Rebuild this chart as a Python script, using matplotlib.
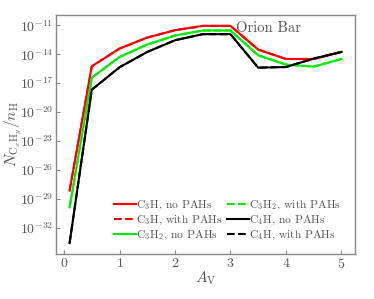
import matplotlib
matplotlib.use("Agg")
import matplotlib.pyplot as plt
import numpy as np

plt.rcParams['font.family'] = 'serif'
plt.rcParams['font.serif'] = ['cmr10']
plt.rcParams['mathtext.fontset'] = 'cm'
plt.rcParams['axes.formatter.use_mathtext'] = True

av = [0.1, 0.5, 1.0, 1.5, 2.0, 2.5, 3.0, 3.5, 4.0, 4.5, 5.0]
log_c3h = [-28.13, -15.26, -13.42, -12.28, -11.52, -11.07, -11.07, -13.53, -14.5, -14.5, -13.77]
log_c3h2 = [-29.87, -16.43, -14.29, -13.0, -12.07, -11.55, -11.55, -14.12, -15.08, -15.29, -14.5]
log_c4h = [-33.57, -17.68, -15.36, -13.77, -12.56, -11.93, -11.93, -15.4, -15.33, -14.46, -13.77]
# with PAHs: coincide with the no-PAH curves in the figure
log_c3h_pah = log_c3h
log_c3h2_pah = log_c3h2
log_c4h_pah = log_c4h

series = [
    ("C$_3$H, no PAHs", log_c3h, "#ff0000", "-"),
    ("C$_3$H, with PAHs", log_c3h_pah, "#ff0000", "--"),
    ("C$_3$H$_2$, no PAHs", log_c3h2, "#00ee00", "-"),
    ("C$_3$H$_2$, with PAHs", log_c3h2_pah, "#00ee00", "--"),
    ("C$_4$H, no PAHs", log_c4h, "#000000", "-"),
    ("C$_4$H, with PAHs", log_c4h_pah, "#000000", "--"),
]

fig = plt.figure(figsize=(3.74, 2.99), dpi=100)
ax = fig.add_axes([56/374, 1-254/299, 299/374, 239/299])

handles = []
for label, vals, col, ls in series:
    h, = ax.plot(av, 10.0**np.array(vals), color=col, ls=ls, lw=1.5, label=label,
                 zorder=2 if ls == "--" else 3)
    handles.append(h)

ax.set_yscale('log')
ax.set_yticks([1e-11, 1e-14, 1e-17, 1e-20, 1e-23, 1e-26, 1e-29, 1e-32])
ax.minorticks_off()
ax.set_xticks([0, 1, 2, 3, 4, 5])

gray = '#888888'
tc = '#555555'
for s in ax.spines.values():
    s.set_color(gray)
    s.set_linewidth(1.0)
ax.tick_params(direction='in', length=3, color=gray, labelcolor=tc, labelsize=10, pad=2)

ax.set_xlabel(r'$A_{\rm V}$', fontsize=11, color=tc, labelpad=-1)
ax.set_ylabel(r'$N_{{\rm C}_x{\rm H}_y}/n_{\rm H}$', fontsize=11, color=tc)
ax.yaxis.set_label_coords(-0.112, 0.5)

ax.text(3.1, 10**-11.3, 'Orion Bar', fontsize=10.5, color=tc, va='center', ha='left')

leg = ax.legend(handles=handles, ncol=2, loc='lower right', frameon=False,
                fontsize=8.3, handlelength=1.85, handletextpad=0.05,
                columnspacing=0.4, labelspacing=0.15, borderaxespad=0,
                bbox_to_anchor=(0.97, 0.03))
for t in leg.get_texts():
    t.set_color(tc)

fig.savefig('out.png', dpi=100)
